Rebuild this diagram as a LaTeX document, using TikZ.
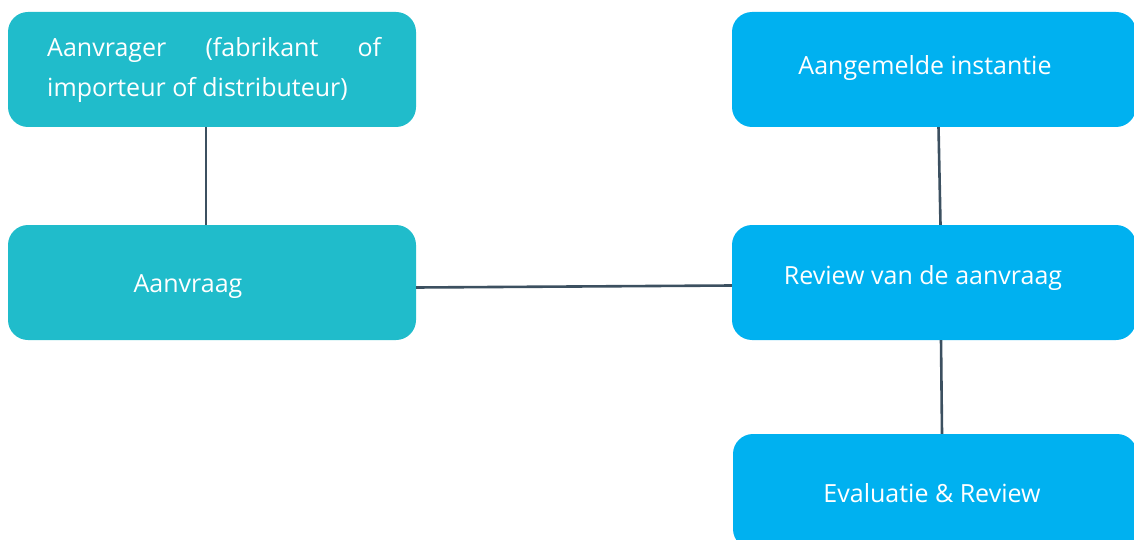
\documentclass[tikz,border=0pt]{standalone}
\usepackage{fontspec}
\setmainfont{Open Sans}
\definecolor{tealbox}{HTML}{20BCCB}
\definecolor{bluebox}{HTML}{00B1F0}
\definecolor{linkcol}{HTML}{3C5060}
\begin{document}
\begin{tikzpicture}[x=1pt,y=-1pt,
  box/.style={draw=none,rounded corners=20pt,minimum height=115pt,inner sep=0pt},
  tbox/.style={box,fill=tealbox,minimum width=408pt},
  bbox/.style={box,fill=bluebox,minimum width=404pt},
  txt/.style={text=white,inner sep=0pt,font=\fontsize{25}{30}\selectfont},
  link/.style={draw=linkcol,line width=2.6pt}]
\useasboundingbox (0,0) rectangle (1134,540);
\clip (0,0) rectangle (1134,540);
\node[tbox] (A) at (212,69.5) {};
\node[tbox] (B) at (212,282.5) {};
\node[bbox] (C) at (934,69.5) {};
\node[bbox] (D) at (934,282.5) {};
\node[bbox] (E) at (935,491.5) {};
\node[txt,anchor=base west,text width=334pt,align=left] (a1) at (47,57) {Aanvrager\hfill(fabrikant\hfill of};
\node[txt,anchor=base west] (a2) at (47,97) {importeur of distributeur)};
\node[txt,anchor=base] (b) at (188,292.5) {Aanvraag};
\node[txt,anchor=base] (c) at (925,75) {Aangemelde instantie};
\node[txt,anchor=base] (d) at (923,284) {Review van de aanvraag};
\node[txt,anchor=base] (e) at (932,502.5) {Evaluatie \& Review};
\draw[link] ([xshift=-6pt]A.south) -- ([xshift=-6pt]B.north);
\draw[link] ([yshift=-5pt]B.east) -- ([yshift=-3pt]D.west);
\draw[link] ([xshift=4.5pt]C.south) -- ([xshift=6.5pt]D.north);
\draw[link] ([xshift=7pt]D.south) -- ([xshift=7pt]E.north);
\end{tikzpicture}
\end{document}
